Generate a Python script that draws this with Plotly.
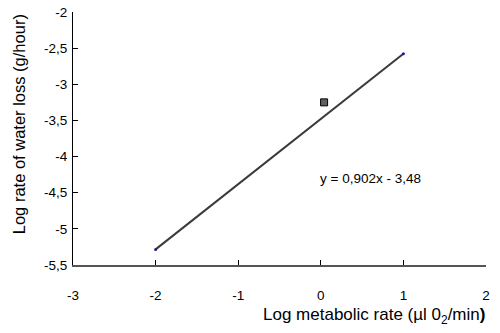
import plotly.graph_objects as go

# Data
point_x = [0.04]
point_y = [-3.25]
slope = 0.902
intercept = -3.48
line_x = [-2, 1]
line_y = [slope * x + intercept for x in line_x]

x_ticks = [-3, -2, -1, 0, 1, 2]
x_ticktext = ["-3", "-2", "-1", "0", "1", "2"]
y_ticks = [-2, -2.5, -3, -3.5, -4, -4.5, -5, -5.5]
y_ticktext = ["-2", "-2,5", "-3", "-3,5", "-4", "-4,5", "-5", "-5,5"]

font = "Liberation Sans, Arial, sans-serif"

fig = go.Figure()
fig.add_trace(go.Scatter(
    x=line_x, y=line_y, mode="lines+markers",
    line=dict(color="#3a3a3a", width=2),
    marker=dict(color="#1a1aa0", size=3),
    showlegend=False, hoverinfo="skip"))
fig.add_trace(go.Scatter(
    x=point_x, y=point_y, mode="markers",
    marker=dict(symbol="square", size=7, color="#606060",
                line=dict(color="#000000", width=1)),
    showlegend=False))

fig.add_annotation(x=-0.03, y=-4.30, text="y = 0,902x - 3,48", showarrow=False,
                   xanchor="left", yanchor="middle",
                   font=dict(family=font, size=13.5, color="#000"))

# page body has an 8px default margin, so shift everything up/left by 8px
fig.update_layout(
    width=492, height=325,
    margin=dict(l=65, r=14, t=4, b=68, autoexpand=False),
    paper_bgcolor="white", plot_bgcolor="white",
    font=dict(family=font, color="#000"),
    xaxis=dict(range=[-3, 2], tickvals=x_ticks, ticktext=x_ticktext,
               ticks="inside", ticklen=5, tickcolor="#000", tickwidth=1,
               showgrid=False, zeroline=False, showline=True,
               linecolor="#555555", linewidth=2, automargin=False,
               ticklabelstandoff=17, ticklabeloverflow="allow",
               tickfont=dict(size=13.5, family=font)),
    yaxis=dict(range=[-5.5, -2], tickvals=y_ticks, ticktext=y_ticktext,
               ticks="inside", ticklen=5, tickcolor="#000", tickwidth=1,
               showgrid=False, zeroline=False, showline=True,
               linecolor="#000000", linewidth=1, automargin=False,
               ticklabelstandoff=2, ticklabeloverflow="allow",
               tickfont=dict(size=13.5, family=font)),
)

fig.add_annotation(xref="paper", yref="paper", x=1.003, y=-0.2,
                   xanchor="right", yanchor="middle", showarrow=False,
                   text="Log metabolic rate (µl 0<sub>2</sub>/min<b>)</b>",
                   font=dict(family=font, size=17, color="#000"))
fig.add_annotation(xref="paper", yref="paper", x=-0.131, y=0.556,
                   xanchor="center", yanchor="middle", showarrow=False,
                   textangle=-90,
                   text="Log rate of water loss (g/hour)",
                   font=dict(family=font, size=16.5, color="#000"))

fig.write_html("out.html")
